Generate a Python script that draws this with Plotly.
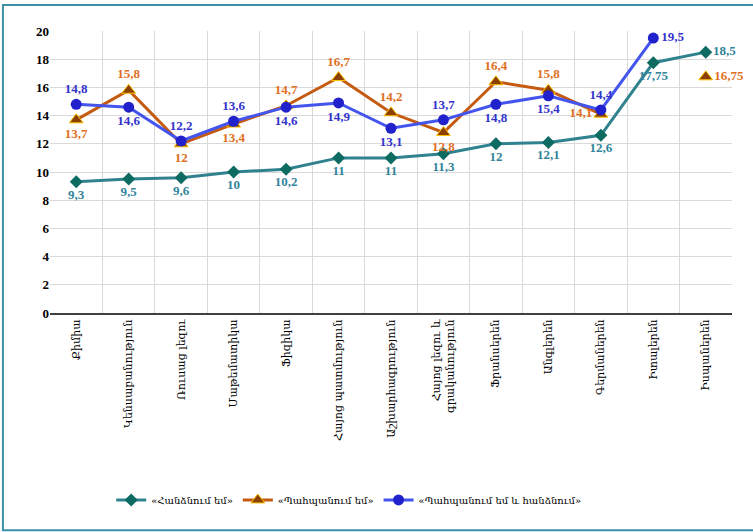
import plotly.graph_objects as go

categories = ["Քիմիա", "Կենսաբանություն", "Ռուսաց լեզու", "Մաթեմատիկա", "Ֆիզիկա",
              "Հայոց պատմություն", "Աշխարհագրություն", "Հայոց լեզու և<br>գրականություն",
              "Ֆրանսերեն", "Անգլերեն", "Գերմաներեն", "Իտալերեն", "Իսպաներեն"]
series_names = ["«Հանձնում եմ»", "«Պահպանում եմ»", "«Պահպանում եմ և հանձնում»"]
hand_in = [9.3, 9.5, 9.6, 10, 10.2, 11, 11, 11.3, 12, 12.1, 12.6, 17.75, 18.5]
keep = [13.7, 15.8, 12, 13.4, 14.7, 16.7, 14.2, 12.8, 16.4, 15.8, 14.1, None, 16.75]
keep_hand = [14.8, 14.6, 12.2, 13.6, 14.6, 14.9, 13.1, 13.7, 14.8, 15.4, 14.4, 19.5, None]
y_ticks = [0, 2, 4, 6, 8, 10, 12, 14, 16, 18, 20]

pos_hand_in = ["bottom center"] * 12 + ["middle right"]
pos_keep = ["bottom center", "top center", "bottom center", "bottom center", "top center",
            "top center", "top center", "bottom center", "top center", "top center",
            "middle left", "top center", "middle right"]
pos_keep_hand = ["top center", "bottom center", "top center", "top center", "bottom center",
                 "bottom center", "bottom center", "top center", "bottom center", "bottom center",
                 "top center", "middle right", "top center"]


def fmt(v):
    return "" if v is None else f"{v:g}".replace(".", ",")


fig = go.Figure()
fig.add_trace(go.Scatter(
    x=categories, y=hand_in, name=series_names[0], mode="lines+markers+text",
    cliponaxis=False,
    line=dict(color="#31828F", width=3),
    marker=dict(symbol="diamond", size=10, color="#0E6B62"),
    text=[fmt(v) for v in hand_in], textposition=pos_hand_in,
    textfont=dict(family="Liberation Serif", size=13, color="#31849B", weight="bold"),
))
fig.add_trace(go.Scatter(
    x=categories, y=keep, name=series_names[1], mode="lines+markers+text",
    connectgaps=False, cliponaxis=False,
    line=dict(color="#C55A11", width=3),
    marker=dict(symbol="triangle-up", size=12, color="#8B4000", line=dict(color="#FFC000", width=1)),
    text=[fmt(v) for v in keep], textposition=pos_keep,
    textfont=dict(family="Liberation Serif", size=13, color="#E0701E", weight="bold"),
))
fig.add_trace(go.Scatter(
    x=categories, y=keep_hand, name=series_names[2], mode="lines+markers+text",
    connectgaps=False, cliponaxis=False,
    line=dict(color="#4455EE", width=3),
    marker=dict(symbol="circle", size=11, color="#2222CC"),
    text=[fmt(v) for v in keep_hand], textposition=pos_keep_hand,
    textfont=dict(family="Liberation Serif", size=13, color="#3333CC", weight="bold"),
))

fig.add_shape(type="rect", xref="paper", yref="paper",
              x0=-0.069, x1=1.04, y0=-0.77, y1=1.092,
              line=dict(color="#3E8FA8", width=2), fillcolor="rgba(0,0,0,0)", layer="below")

fig.update_layout(
    width=753, height=532,
    margin=dict(l=50, r=21, t=31, b=219),
    paper_bgcolor="white", plot_bgcolor="white",
    showlegend=True,
    legend=dict(orientation="h", x=0.438, xanchor="center", y=-0.663, yanchor="middle",
                font=dict(family="DejaVu Serif", size=10, color="black"),
                itemwidth=30, tracegroupgap=0),
    xaxis=dict(type="category", tickson="boundaries", showgrid=True, gridcolor="#D9D9D9",
               gridwidth=1, ticks="", tickangle=-90,
               tickfont=dict(family="DejaVu Serif", size=11, color="black"),
               showline=True, linecolor="#404040", linewidth=2, range=[-0.5, 12.5]),
    yaxis=dict(range=[0, 20], tickvals=y_ticks, showgrid=True, gridcolor="#D9D9D9",
               gridwidth=1, zeroline=False, ticks="",
               tickfont=dict(family="Liberation Serif", size=13, color="black", weight="bold")),
)

fig.write_html("out.html", config={"displayModeBar": False},
               post_script="document.body.style.margin='0px';document.body.style.overflow='hidden';")
